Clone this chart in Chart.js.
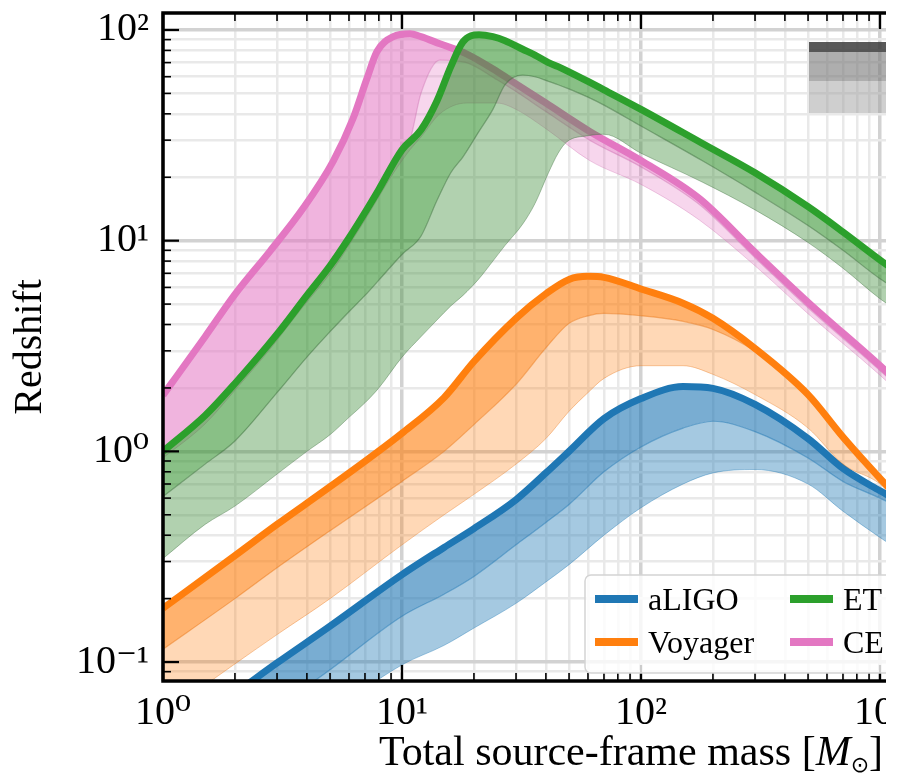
<!DOCTYPE html>
<html>
<head>
<meta charset="utf-8">
<script src="https://cdn.jsdelivr.net/npm/chart.js@4.4.0/dist/chart.umd.min.js"></script>
<style>
  html, body { margin: 0; padding: 0; background: #fff; }
  #wrap { width: 886px; height: 774px; overflow: hidden; }
  #wrap canvas { display: block; }
</style>
</head>
<body>
<div id="wrap"><canvas id="horizon" width="1160" height="774"></canvas></div>
<script>
/* ── horizon redshift vs total mass (log-log) ── */

// ── data ──
const massLIGO = [1, 2, 3, 5, 10, 15, 20, 30, 40, 50, 70, 100, 150, 200, 300, 500, 700, 1000, 1200];
const zLIGOTop = [0.041, 0.071, 0.099, 0.148, 0.26, 0.35, 0.43, 0.59, 0.79, 1.0, 1.43, 1.78, 2.03, 1.99, 1.67, 1.15, 0.83, 0.65, 0.58];
const zLIGOMid = [0.026, 0.045, 0.061, 0.092, 0.165, 0.21, 0.255, 0.36, 0.46, 0.56, 0.80, 1.05, 1.29, 1.39, 1.24, 0.93, 0.72, 0.60, 0.54];
const zLIGOLow = [0.015, 0.027, 0.037, 0.057, 0.097, 0.12, 0.145, 0.19, 0.24, 0.29, 0.40, 0.54, 0.70, 0.79, 0.82, 0.70, 0.52, 0.39, 0.34];

const massVoy = [1, 2, 3, 5, 10, 15, 20, 30, 40, 50, 60, 70, 100, 150, 200, 300, 500, 700, 1000, 1200];
const zVoyTop = [0.18, 0.32, 0.45, 0.68, 1.22, 1.8, 2.67, 4.28, 5.6, 6.55, 6.77, 6.7, 5.9, 5.05, 4.28, 3.08, 1.86, 1.17, 0.745, 0.6];
const zVoyMid = [0.115, 0.2, 0.28, 0.42, 0.72, 1.0, 1.34, 2.08, 3.1, 4.05, 4.4, 4.52, 4.4, 4.14, 3.79, 2.98, 1.8, 1.12, 0.72, 0.58];
const zVoyLow = [0.056, 0.098, 0.135, 0.2, 0.36, 0.5, 0.625, 0.87, 1.15, 1.55, 1.9, 2.22, 2.55, 2.55, 2.32, 1.86, 1.29, 0.87, 0.70, 0.56];

const massET = [1, 1.5, 2, 3, 4, 5, 6, 7, 8, 10, 12, 14, 16, 18, 21, 24, 27, 32, 36, 41, 45, 49, 60, 70, 100, 180, 300, 500, 700, 1000, 1200];
const zETTop = [1.0, 1.48, 2.1, 3.6, 5.5, 7.6, 10.3, 13.6, 17.5, 27, 33.5, 46, 67, 88, 95, 93, 89, 81, 76, 70, 67, 64, 57, 52, 42, 29, 21, 14.5, 11, 8.1, 7.0];
const zETMid = [0.61, 0.87, 1.12, 1.9, 2.8, 3.7, 4.6, 5.5, 6.5, 8.6, 10.5, 15.5, 21, 25, 33, 42, 55, 61, 60, 57, 55, 53, 48, 44, 35, 24, 17, 11.8, 9, 6.6, 5.8];
const zETLow = [0.31, 0.45, 0.55, 0.78, 1.0, 1.2, 1.45, 1.7, 2.0, 2.8, 3.5, 4.2, 4.9, 5.5, 6.6, 8.0, 9.5, 12, 15, 21, 26, 29.5, 31.5, 32, 26, 19, 14, 9.8, 7.4, 5.3, 4.6];

const massCE = [1, 1.5, 2, 2.8, 3.85, 5.15, 6.24, 7.14, 7.86, 9.2, 10.8, 12, 14.4, 18.6, 25, 30, 40, 61, 100, 176, 300, 500, 1000, 1200];
const zCETop = [1.85, 3.5, 5.56, 8.9, 14.2, 23.8, 38, 59, 79, 93, 96, 93, 86, 77, 63.5, 55.5, 45, 33, 24, 15.8, 8.8, 5.1, 2.55, 2.1];
const zCEMid = [1.0, 1.45, 2.1, 3.3, 5.2, 7.9, 11, 14, 16.8, 22.5, 30, 50, 72, 70, 58, 51, 41, 30, 22.4, 14.8, 8.3, 4.8, 2.42, 2.0];
const zCELow = [0.93, 1.35, 1.95, 3.05, 4.85, 7.3, 10.2, 13, 15.6, 20.9, 27, 31, 40, 45, 45, 42, 34, 24, 18.5, 12.5, 7.6, 4.5, 2.3, 1.9];

const xRange = [1, 1e4];
const yRange = [0.0813, 120.4];
const legendOrder = ['aLIGO', 'Voyager', 'ET', 'CE'];

const SERIF = '"Liberation Serif", "DejaVu Serif", serif';

// drawing order, bottom to top
const detectors = [
  { name: 'aLIGO',   line: '#1f77b4', dark: 'rgba(31,119,180,0.6)',  light: 'rgba(31,119,180,0.4)',  edge: 'rgba(31,119,180,0.5)',  mass: massLIGO, top: zLIGOTop, mid: zLIGOMid, low: zLIGOLow },
  { name: 'Voyager', line: '#ff7f0e', dark: 'rgba(255,127,14,0.6)',  light: 'rgba(255,127,14,0.3)',  edge: 'rgba(230,110,10,0.45)', mass: massVoy,  top: zVoyTop,  mid: zVoyMid,  low: zVoyLow },
  { name: 'CE',      line: '#e377c2', dark: 'rgba(227,119,194,0.55)', light: 'rgba(227,119,194,0.3)', edge: 'rgba(200,100,170,0.4)', mass: massCE,   top: zCETop,   mid: zCEMid,   low: zCELow },
  { name: 'ET',      line: '#2ca02c', dark: 'rgba(40,140,35,0.55)',  light: 'rgba(60,140,55,0.4)',   edge: 'rgba(60,110,60,0.5)',   mass: massET,   top: zETTop,   mid: zETMid,   low: zETLow },
];

const pts = (mass, z) => mass.map((m, i) => ({ x: m, y: z[i] }));

function decadeExp(v) {
  if (!(v > 0)) return null;
  const l = Math.log10(v), e = Math.round(l);
  return Math.abs(l - e) < 1e-6 ? e : null;
}
function tickKind(v) {
  if (decadeExp(v) !== null) return 'major';
  if (!(v > 0)) return null;
  const s = v / Math.pow(10, Math.floor(Math.log10(v) + 1e-9));
  return Math.abs(s - Math.round(s)) < 1e-6 ? 'minor' : null;
}
const SUP = { '-': '\u207B', '0': '\u2070', '1': '\u00B9', '2': '\u00B2', '3': '\u00B3', '4': '\u2074' };
function decadeLabel(v) {
  const e = decadeExp(v);
  if (e === null) return '';
  return '10' + String(e).split('').map(c => SUP[c]).join('');
}

function buildDatasets() {
  const sets = [];
  let order = detectors.length * 3;
  detectors.forEach(d => {
    const common = { pointRadius: 0, cubicInterpolationMode: 'monotone', clip: 0 };
    sets.push({ ...common, label: d.name, data: pts(d.mass, d.top), borderColor: d.line, borderWidth: 7,
      borderJoinStyle: 'round', fill: false, order: order - 2 });
    sets.push({ ...common, label: d.name + ' mid', data: pts(d.mass, d.mid), borderColor: d.edge, borderWidth: 1.2,
      backgroundColor: d.dark, fill: '-1', order: order - 1 });
    sets.push({ ...common, label: d.name + ' low', data: pts(d.mass, d.low), borderColor: d.edge, borderWidth: 0.8,
      backgroundColor: d.light, fill: '-1', order: order });
    order -= 3;
  });
  return sets;
}

function gridColor(c) {
  const k = c.tick ? tickKind(c.tick.value) : null;
  return k === 'major' ? '#d2d2d2' : k === 'minor' ? '#e9e9e9' : 'rgba(0,0,0,0)';
}
function gridWidth(c) {
  const k = c.tick ? tickKind(c.tick.value) : null;
  return k === 'major' ? 3.5 : 2.5;
}

// ── inward ticks and spines ──
const axesDecor = {
  id: 'axesDecor',
  afterDatasetsDraw(chart) {
    const { ctx, chartArea: a, scales: { x, y } } = chart;
    const seg = (x1, y1, x2, y2) => { ctx.beginPath(); ctx.moveTo(x1, y1); ctx.lineTo(x2, y2); ctx.stroke(); };
    ctx.save();
    ctx.strokeStyle = '#000';
    x.ticks.forEach(t => {
      const k = tickKind(t.value);
      if (!k) return;
      const px = x.getPixelForValue(t.value);
      const len = k === 'major' ? 16 : 8;
      ctx.lineWidth = k === 'major' ? 2.2 : 1.6;
      seg(px, a.bottom, px, a.bottom - len);
      seg(px, a.top, px, a.top + len);
    });
    y.ticks.forEach(t => {
      const k = tickKind(t.value);
      if (!k) return;
      const py = y.getPixelForValue(t.value);
      const len = k === 'major' ? 16 : 8;
      ctx.lineWidth = k === 'major' ? 2.2 : 1.6;
      seg(a.left, py, a.left + len, py);
      seg(a.right, py, a.right - len, py);
    });
    ctx.lineWidth = 3.5;
    ctx.strokeRect(a.left, a.top, a.right - a.left, a.bottom - a.top);
    ctx.restore();
  },
};

// ── legends and x title ──
const overlays = {
  id: 'overlays',
  afterDraw(chart) {
    const { ctx, chartArea: a } = chart;
    ctx.save();

    // grey band key, upper right (cut off in the reference)
    const gx = a.left + 646;
    ctx.fillStyle = 'rgba(60,60,60,0.85)';  ctx.fillRect(gx, a.top + 29, 120, 10);
    ctx.fillStyle = 'rgba(120,120,120,0.6)'; ctx.fillRect(gx, a.top + 39, 120, 29);
    ctx.fillStyle = 'rgba(160,160,160,0.5)'; ctx.fillRect(gx, a.top + 68, 120, 32);

    // detector legend
    const lx = a.left + 422, ly = a.bottom - 106, lw = 340, lh = 98;
    ctx.beginPath();
    ctx.roundRect(lx, ly, lw, lh, 6);
    ctx.fillStyle = 'rgba(255,255,255,0.8)';
    ctx.fill();
    ctx.lineWidth = 1.5;
    ctx.strokeStyle = '#d4d4d4';
    ctx.stroke();
    ctx.font = '32px ' + SERIF;
    ctx.textBaseline = 'alphabetic';
    ctx.textAlign = 'left';
    legendOrder.forEach((name, i) => {
      const d = detectors.find(dd => dd.name === name);
      const col = Math.floor(i / 2), row = i % 2;
      const hx = lx + 10 + col * 195, hy = ly + 24 + row * 43;
      ctx.strokeStyle = d.line;
      ctx.lineWidth = 8;
      ctx.beginPath(); ctx.moveTo(hx, hy); ctx.lineTo(hx + 43, hy); ctx.stroke();
      ctx.fillStyle = '#000';
      ctx.fillText(name, hx + 53, hy + 11);
    });

    // x axis title with italic M and sun subscript
    const parts = [
      { t: 'Total source-frame mass [', f: '42px ' + SERIF, dy: 0 },
      { t: 'M', f: 'italic 42px ' + SERIF, dy: 0 },
      { t: '\u2299', f: '22px "DejaVu Sans", sans-serif', dy: 7 },
      { t: ']', f: '42px ' + SERIF, dy: 0 },
    ];
    let total = 0;
    parts.forEach(p => { ctx.font = p.f; p.w = ctx.measureText(p.t).width; total += p.w; });
    let tx = (a.left + a.right) / 2 - 10 - total / 2;
    const baseY = a.bottom + 84;
    ctx.fillStyle = '#000';
    parts.forEach(p => { ctx.font = p.f; ctx.fillText(p.t, tx, baseY + p.dy); tx += p.w; });
    ctx.restore();
  },
};

new Chart(document.getElementById('horizon'), {
  type: 'line',
  data: { datasets: buildDatasets() },
  options: {
    responsive: false,
    animation: false,
    layout: { padding: { top: 13, right: 41, bottom: 0, left: 0 } },
    plugins: { legend: { display: false }, tooltip: { enabled: false } },
    scales: {
      x: {
        type: 'logarithmic', min: xRange[0], max: xRange[1],
        grid: { color: gridColor, lineWidth: gridWidth, drawTicks: false },
        border: { display: false },
        ticks: { autoSkip: false, maxRotation: 0, padding: 8, color: '#000',
          font: { family: SERIF, size: 40 }, callback: decadeLabel },
        afterFit(s) { s.height = 93; s.paddingLeft = 0; s.paddingRight = 0; },
      },
      y: {
        type: 'logarithmic', min: yRange[0], max: yRange[1],
        grid: { color: gridColor, lineWidth: gridWidth, drawTicks: false },
        border: { display: false },
        title: { display: true, text: 'Redshift', color: '#000',
          font: { family: SERIF, size: 40 }, padding: { top: 6, bottom: 0 } },
        ticks: { autoSkip: false, padding: 14, color: '#000',
          font: { family: SERIF, size: 40 }, callback: decadeLabel },
        afterFit(s) { s.width = 163; s.paddingTop = 0; s.paddingBottom = 0; },
      },
    },
  },
  plugins: [axesDecor, overlays],
});
</script>
</body>
</html>
